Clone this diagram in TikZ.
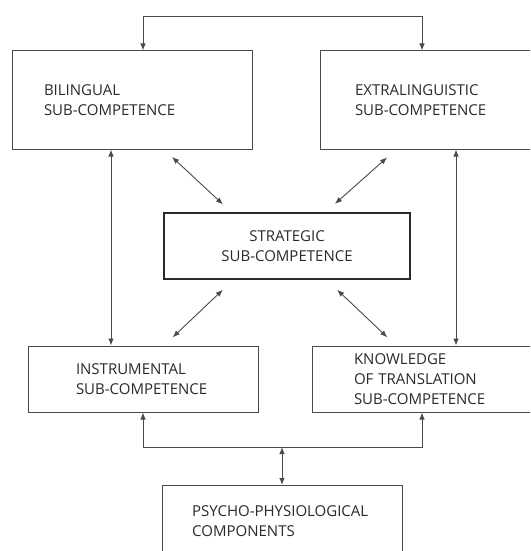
\documentclass[tikz,border=0pt]{standalone}
\usepackage{fontspec}
\setmainfont{Open Sans}
\usetikzlibrary{arrows.meta}
\definecolor{ink}{HTML}{2A2A2A}
\definecolor{rule}{HTML}{4A4A4A}
\begin{document}
\begin{tikzpicture}[x=1pt,y=-1pt,
  box/.style={draw=rule, line width=1pt, rectangle, inner ysep=0pt,
    font=\fontsize{15}{20}\selectfont, text=ink, align=left},
  thickbox/.style={box, draw=ink, line width=2.3pt, align=center},
  link/.style={draw=rule, line width=0.9pt, {Latex[length=7pt,width=5.5pt]}-{Latex[length=7pt,width=5.5pt]}},
  txt/.style={font=\fontsize{15}{20}\selectfont, text=ink, align=left, inner sep=0pt}]
\useasboundingbox (0,0) rectangle (530,551);
\clip (0,0) rectangle (530,551);
\fill[white] (0,0) rectangle (530,551);

% sub-competence boxes
\node[box, minimum width=240, minimum height=98, text width=176, inner xsep=32]
  (bil) at (132,100) {BILINGUAL\\SUB-COMPETENCE};
\node[box, minimum width=240, minimum height=98, text width=170, inner xsep=35]
  (ext) at (440,100) {EXTRALINGUISTIC\\SUB-COMPETENCE};
\node[thickbox, minimum width=246, minimum height=66, text width=200]
  (str) at (287,246) {STRATEGIC\\SUB-COMPETENCE};
\node[box, minimum width=230, minimum height=66, text width=134, inner xsep=48]
  (ins) at (143,379) {INSTRUMENTAL\\SUB-COMPETENCE};
\node[box, minimum width=240, minimum height=66, text width=156, inner xsep=42]
  (kno) at (432,379) {KNOWLEDGE\\OF TRANSLATION\\SUB-COMPETENCE};

% psycho-physiological components (box runs past the lower edge)
\node[box, minimum width=240, minimum height=110, anchor=north] (psy) at (282,485) {};
\node[txt, anchor=west] (psytext) at (192,521) {PSYCHO-PHYSIOLOGICAL\\COMPONENTS};

% top bracket between bilingual and extralinguistic
\coordinate (tl) at (143,16);
\coordinate (tr) at (422,16);
\draw[link] (bil.north -| tl) -- (tl) -- (tr) -- (ext.north -| tr);

% vertical links on both sides
\coordinate (vl) at (111,0);
\coordinate (vr) at (456,0);
\draw[link] (bil.south -| vl) -- (ins.north -| vl);
\draw[link] (ext.south -| vr) -- (kno.north -| vr);

% diagonal links around the strategic box
\draw[link, shorten <=11pt, shorten >=11pt] (bil.south -| 164,0) -- (str.north -| 231,0);
\draw[link, shorten <=12pt, shorten >=12pt] (ext.south -| 396,0) -- (str.north -| 326,0);
\draw[link, shorten <=14pt, shorten >=12pt] (str.south -| 233,0) -- (ins.north -| 164,0);
\draw[link, shorten <=14pt, shorten >=12pt] (str.south -| 327,0) -- (kno.north -| 396,0);

% bottom bracket and link to the psycho-physiological components
\coordinate (bl) at (143,447);
\coordinate (br) at (422,447);
\coordinate (bm) at (282,447);
\draw[link] (ins.south -| bl) -- (bl) -- (br) -- (kno.south -| br);
\draw[link] (bm) -- (psy.north -| bm);
\end{tikzpicture}
\end{document}
